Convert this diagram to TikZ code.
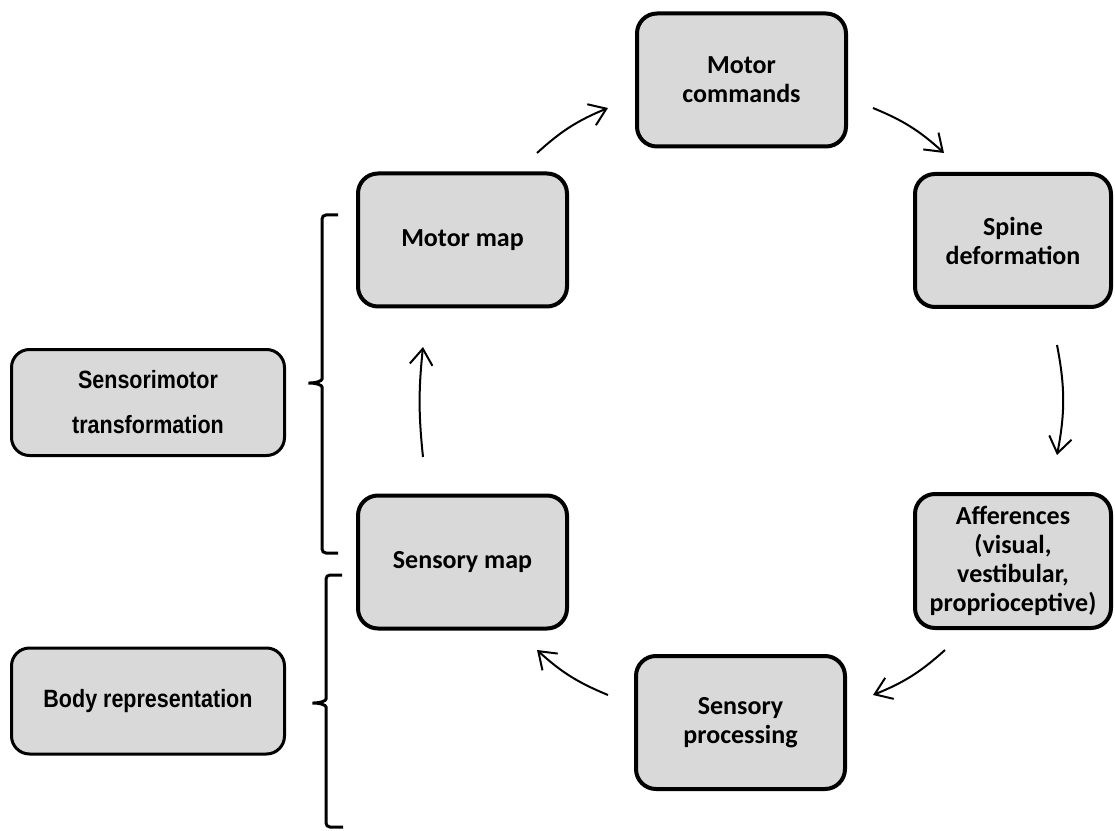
\documentclass[tikz,border=0pt]{standalone}
\usepackage{fontspec}
\setmainfont{Carlito}
\newfontfamily\sidefont[FakeStretch=0.86]{Liberation Sans}
\usetikzlibrary{arrows.meta}
\definecolor{boxgray}{HTML}{D9D9D9}
\begin{document}
\begin{tikzpicture}[x=0.75pt,y=-0.75pt,
  stagebox/.style={draw=black, fill=boxgray, line width=3pt, rounded corners=15pt,
    minimum width=156.75pt, minimum height=99.75pt, inner sep=0pt, align=center,
    font=\bfseries\fontsize{19.5pt}{21.75pt}\selectfont},
  sidebox/.style={draw=black, fill=boxgray, line width=2.25pt, rounded corners=13.5pt,
    minimum width=204.75pt, minimum height=79.5pt, inner sep=0pt, align=center,
    font=\sidefont\bfseries\fontsize{18.75pt}{33.75pt}\selectfont},
  flow/.style={line width=1.5pt, -{Straight Barb[length=12pt,width=17pt,line width=1.5pt]}},
  bracket/.style={line width=2.25pt, rounded corners=3pt}]
\useasboundingbox (0,0) rectangle (1115,831);

% stages of the loop
\node[stagebox] (cmd)   at (741.5,80)  {Motor\\commands};
\node[stagebox, minimum width=147pt] (spine) at (1013,240.5) {Spine\\deformation};
\node[stagebox, minimum width=147pt, minimum height=100.5pt] (aff) at (1013,561)
  {Afferences\\(visual,\\vestibular,\\proprioceptive)};
\node[stagebox] (proc)  at (740.5,722.5) {Sensory\\processing};
\node[stagebox] (smap)  at (462.5,562)   {Sensory map};
\node[stagebox] (mmap)  at (462.5,240)   {Motor map};

% grouping labels
\node[sidebox] (smt)  at (148,402.5) {Sensorimotor\\transformation};
\node[sidebox] (body) at (148,701)   {Body representation};

% arrow end points between the boxes
\coordinate (a1s) at (537,153);  \coordinate (a1e) at (608,108);
\coordinate (a2s) at (873,108);  \coordinate (a2e) at (944,153);
\coordinate (a3s) at (1057,345); \coordinate (a3e) at (1057,455);
\coordinate (a4s) at (945,650);  \coordinate (a4e) at (873,695);
\coordinate (a5s) at (608,695);  \coordinate (a5e) at (537,650);
\coordinate (a6s) at (423,457);  \coordinate (a6e) at (423,347);

\draw[flow] (a1s) to[bend left=10] (a1e);
\draw[flow] (a2s) to[bend left=10] (a2e);
\draw[flow] (a3s) to[bend left=11] (a3e);
\draw[flow] (a4s) to[bend left=10] (a4e);
\draw[flow] (a5s) to[bend left=10] (a5e);
\draw[flow] (a6s) to[bend left=6]  (a6e);

% brackets
\draw[bracket] (338,215) -- (322,215) -- (322,375)
  .. controls (322,381) and (316,383) .. (306,383)
  .. controls (316,383) and (322,385) .. (322,391)
  -- (322,553) -- (338,553);
\draw[bracket] (342,575) -- (326,575) -- (326,695)
  .. controls (326,701) and (320,703) .. (310,703)
  .. controls (320,703) and (326,705) .. (326,711)
  -- (326,827) -- (343,827);
\end{tikzpicture}
\end{document}
